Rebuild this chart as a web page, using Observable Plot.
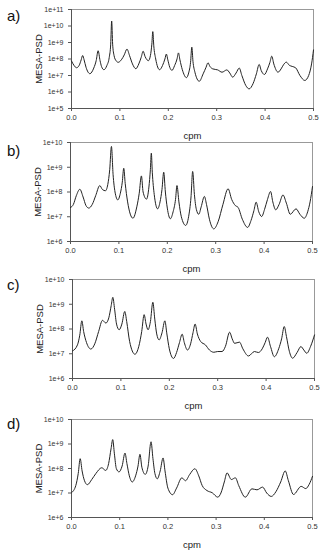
<!DOCTYPE html>
<html>
<head>
<meta charset="utf-8">
<script src="https://cdn.jsdelivr.net/npm/d3@7"></script>
<script src="https://cdn.jsdelivr.net/npm/@observablehq/plot@0.6"></script>
<style>
  body { margin: 0; background: #fff; }
  #wrap { position: relative; width: 324px; height: 550px; overflow: hidden; font-family: "Liberation Sans", Arial, sans-serif; }
  #wrap svg { position: absolute; left: 0; background: transparent; overflow: visible; }
  .lab { position: absolute; font-size: 15px; color: #111; line-height: 1; }
</style>
</head>
<body>
<div id="wrap"></div>
<script>
// ---- tick labels ----
const xTicks = [0, 0.1, 0.2, 0.3, 0.4, 0.5];
const yTicksA = [1e5, 1e6, 1e7, 1e8, 1e9, 1e10, 1e11];
const yTicksBCD = [1e6, 1e7, 1e8, 1e9, 1e10];
const panelLabels = ["a)", "b)", "c)", "d)"];

// ---- panel a : cpm and log10(MESA-PSD) ----
const cpmA = [0.000,0.005,0.0104,0.016,0.020,0.023,0.026,0.030,0.038,0.046,0.051,0.055,0.059,0.062,0.067,0.073,0.078,0.081,0.083,0.085,0.088,0.092,0.0965,0.103,0.109,0.1146,0.120,0.126,0.133,0.139,0.144,0.148,0.152,0.156,0.159,0.163,0.166,0.168,0.170,0.174,0.182,0.188,0.193,0.196,0.199,0.203,0.2076,0.213,0.218,0.221,0.224,0.229,0.2375,0.242,0.246,0.2486,0.251,0.255,0.264,0.272,0.278,0.282,0.286,0.292,0.302,0.311,0.321,0.327,0.333,0.340,0.3466,0.352,0.360,0.367,0.375,0.382,0.3877,0.392,0.3986,0.405,0.410,0.4137,0.418,0.4267,0.433,0.438,0.4438,0.450,0.456,0.463,0.472,0.482,0.490,0.496,0.500];
const logPsdA = [7.88,7.62,7.47,7.62,7.95,8.21,7.95,7.5,7.11,7.45,7.9,8.5,7.9,7.55,7.35,7.6,8.1,8.9,10.3,8.9,8.2,7.9,7.8,7.95,8.25,8.6,8.2,7.7,7.41,7.7,8.1,8.47,8.15,7.95,7.9,8.2,8.9,9.66,8.8,8.0,7.35,7.6,8.0,8.3,7.95,7.5,7.31,7.6,8.0,8.37,7.95,7.35,6.87,7.15,7.8,8.72,7.85,7.2,6.65,7.1,7.5,7.77,7.55,7.4,7.34,7.2,7.34,7.15,6.9,7.15,7.45,7.0,6.4,6.19,6.5,7.1,7.67,7.3,7.06,7.4,7.8,8.17,7.7,7.2,7.4,7.65,7.81,7.62,7.55,7.47,7.0,6.7,7.0,7.7,8.55];

// ---- panel b ----
const cpmB = [0.000,0.006,0.012,0.0193,0.026,0.032,0.0378,0.045,0.052,0.0605,0.066,0.0722,0.077,0.081,0.0846,0.088,0.092,0.0977,0.103,0.107,0.110,0.113,0.118,0.129,0.137,0.142,0.1465,0.150,0.157,0.162,0.165,0.167,0.169,0.173,0.180,0.185,0.189,0.1926,0.196,0.200,0.2063,0.212,0.217,0.220,0.224,0.229,0.238,0.244,0.249,0.2524,0.256,0.260,0.265,0.270,0.2766,0.281,0.287,0.296,0.305,0.315,0.3256,0.333,0.3407,0.3462,0.355,0.366,0.373,0.379,0.3835,0.389,0.395,0.401,0.407,0.4134,0.418,0.424,0.431,0.439,0.446,0.454,0.466,0.474,0.483,0.490,0.495,0.500];
const logPsdB = [7.37,7.5,7.85,8.11,7.8,7.45,7.35,7.5,7.85,8.26,8.1,8.05,8.3,8.9,9.84,8.7,8.0,7.68,7.95,8.4,8.96,8.35,7.6,6.94,7.4,7.95,8.65,8.0,7.71,8.2,8.9,9.57,8.8,7.9,7.32,7.6,8.1,8.8,8.0,7.35,6.92,7.2,7.7,8.26,7.6,7.0,6.65,7.0,7.8,8.83,7.9,7.3,7.10,7.4,7.82,7.5,6.9,6.51,6.8,7.5,8.13,7.7,7.45,7.38,6.9,6.57,6.85,7.25,7.59,7.2,7.01,7.3,7.7,8.02,7.6,7.28,7.5,7.88,7.55,7.10,7.32,7.1,6.94,7.2,7.6,8.22];

// ---- panel c ----
const cpmC = [0.000,0.0103,0.015,0.0193,0.023,0.029,0.0379,0.046,0.054,0.062,0.0689,0.075,0.080,0.0833,0.087,0.091,0.0964,0.102,0.108,0.112,0.118,0.129,0.137,0.143,0.148,0.152,0.156,0.161,0.166,0.170,0.174,0.179,0.185,0.1908,0.195,0.200,0.2087,0.215,0.221,0.2266,0.231,0.2376,0.244,0.249,0.2533,0.258,0.265,0.2745,0.283,0.292,0.300,0.309,0.316,0.3246,0.330,0.335,0.345,0.352,0.3636,0.376,0.384,0.392,0.398,0.403,0.409,0.417,0.426,0.432,0.4375,0.442,0.448,0.4547,0.464,0.4719,0.478,0.484,0.492,0.500];
const logPsdC = [7.11,7.36,7.75,8.33,7.9,7.45,7.19,7.4,7.9,8.35,8.24,8.45,8.95,9.28,8.8,8.2,7.97,8.2,8.71,8.3,7.5,6.98,7.3,7.9,8.58,8.2,7.97,8.3,9.08,8.4,7.8,7.56,7.85,8.33,7.8,7.2,6.81,7.05,7.45,7.79,7.45,7.15,7.4,7.85,8.2,7.8,7.49,7.36,7.15,7.06,7.09,7.09,7.3,7.87,7.6,7.42,7.47,7.2,6.91,7.09,7.05,7.2,7.45,7.67,7.3,6.88,7.2,7.6,8.10,7.7,7.1,6.82,7.05,7.29,7.15,7.02,7.3,7.76];

// ---- panel d ----
const cpmD = [0.000,0.009,0.014,0.018,0.022,0.027,0.033,0.042,0.0504,0.0628,0.071,0.077,0.082,0.0855,0.089,0.093,0.0986,0.105,0.111,0.115,0.120,0.126,0.133,0.138,0.142,0.146,0.153,0.159,0.165,0.169,0.173,0.178,0.184,0.190,0.194,0.200,0.2097,0.218,0.229,0.2365,0.245,0.256,0.264,0.271,0.281,0.292,0.3035,0.310,0.317,0.3227,0.3317,0.340,0.347,0.3606,0.3744,0.3848,0.3965,0.405,0.4144,0.424,0.434,0.4434,0.450,0.4606,0.4765,0.486,0.493,0.500];
const logPsdD = [7.01,7.31,7.8,8.40,7.9,7.5,7.34,7.55,7.79,8.03,7.92,8.2,8.8,9.18,8.6,8.0,7.86,8.1,8.63,8.2,7.7,7.45,7.7,8.1,8.58,8.05,7.76,8.1,9.09,8.4,7.8,7.58,7.9,8.43,7.9,7.2,6.93,7.2,7.62,7.50,7.75,7.99,7.7,7.31,7.10,7.01,6.83,7.0,7.45,7.82,7.55,7.62,7.3,6.83,7.17,7.13,7.24,7.0,6.86,7.05,7.45,7.90,7.5,6.94,7.27,7.18,7.35,7.68];

const panels = [
  {cpm: cpmA, logPsd: logPsdA, domain: [1e5, 1e11], ticks: yTicksA, top: 9,   h: 99, left: 71, right: 313, labTop: 8},
  {cpm: cpmB, logPsd: logPsdB, domain: [1e6, 1e10], ticks: yTicksBCD, top: 142, h: 99, left: 70, right: 312, labTop: 143},
  {cpm: cpmC, logPsd: logPsdC, domain: [1e6, 1e10], ticks: yTicksBCD, top: 279, h: 99, left: 72, right: 314, labTop: 277},
  {cpm: cpmD, logPsd: logPsdD, domain: [1e6, 1e10], ticks: yTicksBCD, top: 419, h: 98, left: 71, right: 312, labTop: 416}
];

const wrap = document.getElementById("wrap");
const mT = 4, mB = 33;
const fmtY = d => "1e+" + Math.round(Math.log10(d));

panels.forEach((p, i) => {
  const data = p.cpm.map((c, j) => ({cpm: c, psd: Math.pow(10, p.logPsd[j])}));
  const svg = Plot.plot({
    width: 324,
    height: p.h + mT + mB,
    marginTop: mT,
    marginBottom: mB,
    marginLeft: p.left,
    marginRight: 324 - p.right,
    style: {background: "transparent", overflow: "visible", fontFamily: "'Liberation Sans', Arial, sans-serif", color: "#333"},
    x: {domain: [0, 0.5]},
    y: {type: "log", domain: p.domain},
    marks: [
      Plot.frame({stroke: "#999", strokeWidth: 1}),
      Plot.axisX({ticks: xTicks, tickFormat: d => d.toFixed(1), tickSize: 3, tickPadding: 3, fontSize: 7.5, label: null, stroke: "#555"}),
      Plot.axisY({ticks: p.ticks, tickFormat: fmtY, tickSize: 3, tickPadding: 5, fontSize: 7, label: null, stroke: "#555"}),
      Plot.ruleX([0], {stroke: "#555"}),
      Plot.ruleY([p.domain[0]], {stroke: "#555"}),
      Plot.lineY(data, {x: "cpm", y: "psd", curve: "monotone-x", stroke: "#222", strokeWidth: 1}),
      Plot.text(["cpm"], {frameAnchor: "bottom", dy: 27, lineAnchor: "middle", textAnchor: "middle", fontSize: 9.5, fill: "#222"}),
      Plot.text(["MESA-PSD"], {frameAnchor: "left", dx: -33, rotate: -90, textAnchor: "middle", lineAnchor: "middle", fontSize: 9.5, fill: "#222"})
    ]
  });
  svg.style.top = (p.top - mT) + "px";
  wrap.appendChild(svg);
  const lab = document.createElement("div");
  lab.className = "lab";
  lab.textContent = panelLabels[i];
  lab.style.left = "7px";
  lab.style.top = p.labTop + "px";
  wrap.appendChild(lab);
});
</script>
</body>
</html>
